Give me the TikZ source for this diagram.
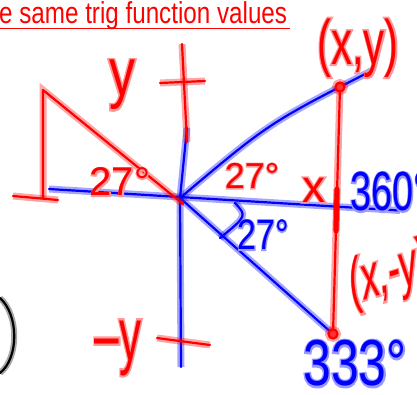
\documentclass[tikz,border=0pt]{standalone}
\usepackage{fontspec}
\setmainfont{Liberation Sans}
\usetikzlibrary{positioning}
% ink text with a soft halo under it
\newcommand{\inkglow}[2]{\makebox[0pt][l]{\color{#1!40}\addfontfeature{FakeBold=6}#2}#2}

\begin{document}
\begin{tikzpicture}[x=1pt, y=-1pt,
        bink/.style={draw=blue, line width=2.2pt, line cap=round, line join=round,
                     preaction={draw=blue, draw opacity=0.35, line width=7pt}},
        rink/.style={draw=red, line width=2.2pt, line cap=round, line join=round,
                     preaction={draw=red, draw opacity=0.35, line width=7pt}},
        kink/.style={draw=black, line width=2.2pt, line cap=round,
                     preaction={draw=black, draw opacity=0.35, line width=6pt}},
        rtxt/.style={text=red, inner sep=0pt},
        btxt/.style={text=blue, inner sep=0pt},
        dot/.style={rink, fill=red!80}
    ]
        \useasboundingbox (0,0) rectangle (417,394);
        \clip (0,0) rectangle (417,394);

        % ── points of the sketch ─────────────────────────────────────────
        \coordinate (org)  at (180, 198);
        \coordinate (axL)  at (49,  189);
        \coordinate (axR)  at (400, 210.5);
        \coordinate (axT)  at (187, 128);
        \coordinate (axB)  at (181, 367);
        \coordinate (rayE) at (373, 70);
        \coordinate (ptA)  at (340, 87);
        \coordinate (ptB)  at (333, 334);
        \coordinate (arcS) at (235, 203);
        \coordinate (arcE) at (220, 238);
        \coordinate (triT) at (43,  90);
        \coordinate (triB) at (43,  198);
        \coordinate (hypE) at (183, 204);

        % ── blue axes and rays ───────────────────────────────────────────
        \draw[bink] (axL) -- (axR);
        \draw[bink] (axT) -- (org) -- (axB);
        \draw[bink] (org) .. controls (269, 123) .. (rayE);
        \draw[bink] (org) -- (ptB);
        \draw[bink] (arcS) .. controls (247, 216) .. (arcE);

        % ── red strokes ──────────────────────────────────────────────────
        \draw[rink] (triB) -- (triT) -- (hypE);
        \draw[rink] (13, 196) -- (58, 200);
        \draw[rink] (182, 44) -- (187, 142);
        \draw[rink] (160, 83) -- (205, 81);
        \draw[rink] (157, 338) -- (210, 345);
        \draw[rink] (ptA) -- (ptB);
        \draw[rink, line width=5pt] (337, 189) -- (336, 231);
        \draw[dot] (ptA) circle (4.5);
        \draw[dot] (ptB) circle (4.5);

        % ── black arc at the left edge ───────────────────────────────────
        \draw[kink] (0, 298) .. controls (19, 315) and (19, 358) .. (0, 373);

        % ── title ────────────────────────────────────────────────────────
        \node[rtxt, anchor=base west, font=\fontsize{24.2}{24}\selectfont, yscale=1.25]
            (ttl) at (-1, 23) {e same trig function values};
        \draw[red, line width=1.4pt] ([yshift=-5.5pt]ttl.base west) -- ([yshift=-5.5pt, xshift=3pt]ttl.base east);

        % ── handwritten labels ───────────────────────────────────────────
        \node[rtxt, font=\fontsize{52}{52}\selectfont, yscale=1.3] (lblY) at (122, 85) {\inkglow{red}{y}};
        \node[rtxt, font=\fontsize{44}{44}\selectfont, yscale=1.7] (lblNegY) at (118, 348) {\inkglow{red}{–y}};
        \node[rtxt, font=\fontsize{40}{40}\selectfont] (lblAngL) at (120, 182) {\inkglow{red}{27°}};
        \node[rtxt, font=\fontsize{36}{36}\selectfont] (lblAngM) at (252, 176) {\inkglow{red}{27°}};
        \node[rtxt, font=\fontsize{46}{46}\selectfont] (lblX) at (314, 190) {\inkglow{red}{x}};
        \node[rtxt, font=\fontsize{42}{42}\selectfont, yscale=1.5] (lblXY) at (358, 48) {\inkglow{red}{(x,y)}};
        \node[rtxt, anchor=west, font=\fontsize{35}{35}\selectfont, yscale=1.8, rotate=10]
            (lblXnY) at (350, 288) {\inkglow{red}{(x,-y)}};
        \node[btxt, anchor=west, font=\fontsize{38}{38}\selectfont, yscale=1.45]
            (lbl360) at (350, 192) {\inkglow{blue}{360°}};
        \node[btxt, font=\fontsize{34}{34}\selectfont, yscale=1.25] (lblAngB) at (263, 235) {\inkglow{blue}{27°}};
        \node[btxt, anchor=west, font=\fontsize{50}{50}\selectfont, yscale=1.3]
            (lbl333) at (303, 363.5) {\inkglow{blue}{333°}};

    \end{tikzpicture}
\end{document}
